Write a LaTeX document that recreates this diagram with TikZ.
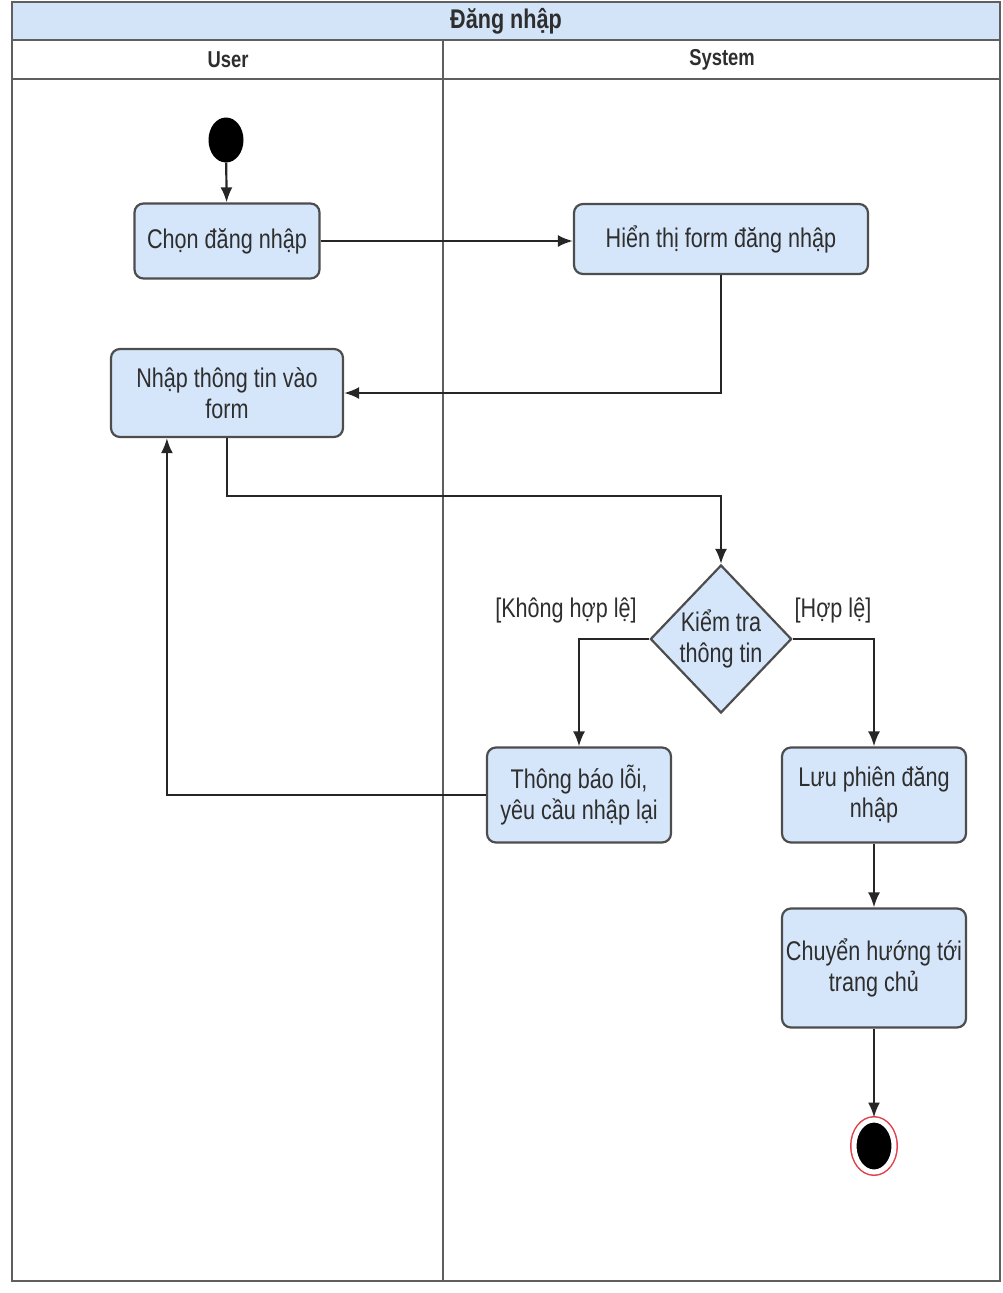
\documentclass[tikz,border=0pt]{standalone}
\usepackage{fontspec}
\setmainfont{Liberation Sans}[FakeStretch=0.8]
\usetikzlibrary{shapes.geometric,arrows.meta}

\definecolor{actblue}{HTML}{D6E6FA}
\definecolor{titleblue}{HTML}{D3E4F9}
\definecolor{boxgray}{HTML}{4D4D4D}
\definecolor{textgray}{HTML}{2E2E2E}
\definecolor{endred}{HTML}{E0404A}

\begin{document}
\begin{tikzpicture}[
  x = 1pt, y = -1pt,
  action/.style = {draw=boxgray, fill=actblue, rounded corners=9pt, line width=2.2pt, text=textgray, align=center, inner sep=0pt, font=\fontsize{27}{31}\selectfont},
  decision/.style = {diamond, draw=boxgray, fill=actblue, line width=2.2pt, text=textgray, align=center, inner sep=0pt, font=\fontsize{27}{31}\selectfont},
  guard/.style = {text=textgray, inner sep=0pt, font=\fontsize{27}{31}\selectfont},
  lanehead/.style = {text=textgray, inner sep=0pt, font=\bfseries\fontsize{23}{27}\selectfont},
  lane/.style = {draw=boxgray!90, line width=2.2pt},
  flow/.style = {draw=black!85, line width=2.2pt, -{Latex[length=15pt, width=12pt]}},
  initial/.style = {ellipse, fill=black, minimum width=35pt, minimum height=45pt, inner sep=0pt},
  final/.style = {ellipse, fill=black, draw=white, line width=5pt, preaction={draw=endred, line width=8pt}, minimum width=40pt, minimum height=52pt, inner sep=0pt},
  ]
  \useasboundingbox (0,0) rectangle (1003,1293);

  \fill[titleblue] (12,2) rectangle (1000,40);
  \draw[lane] (12,2) rectangle (1000,1281);
  \draw[lane] (12,40) -- (1000,40);
  \draw[lane] (12,79) -- (1000,79);
  \draw[lane] (443,40) -- (443,1281);

  \node[lanehead, font=\bfseries\fontsize{27}{31}\selectfont] (title) at (506,21) {Đăng nhập};
  \node[lanehead] (user) at (228,60) {User};
  \node[lanehead] (system) at (722,60) {System};

  \node[initial] (start) at (226,140) {};
  \node[action, minimum width=185pt, minimum height=75pt] (chon) at (227,241) {Chọn đăng nhập};
  \node[action, minimum width=294pt, minimum height=70pt] (hienthi) at (721,239) {Hiển thị form đăng nhập};
  \node[action, minimum width=232pt, minimum height=88pt] (nhap) at (227,393) {Nhập thông tin vào\\form};
  \node[decision, minimum width=138pt, minimum height=148pt] (kiemtra) at (721,639) {Kiểm tra\\thông tin};
  \node[action, minimum width=184pt, minimum height=95pt] (thongbao) at (579,795) {Thông báo lỗi,\\yêu cầu nhập lại};
  \node[action, minimum width=184pt, minimum height=95pt] (luu) at (874,795) {Lưu phiên đăng\\nhập};
  \node[action, minimum width=184pt, minimum height=119pt] (chuyen) at (874,968) {Chuyển hướng tới\\trang chủ};
  \node[final] (end) at (874,1146) {};

  \node[guard] (khong) at (566,610) {[Không hợp lệ]};
  \node[guard] (hople) at (833,610) {[Hợp lệ]};

  \draw[flow] (start) -- (chon);
  \draw[flow] (chon.east) -- (chon.east -| hienthi.west);
  \draw[flow] (hienthi.south) |- (nhap.east);
  \draw[flow] (nhap.south) -- ++(0,58) -| (kiemtra.north);
  \draw[flow] (kiemtra.west) -| (thongbao.north);
  \draw[flow] (kiemtra.east) -| (luu.north);
  \draw[flow] (thongbao.west) -| ([xshift=57pt]nhap.south west);
  \draw[flow] (luu) -- (chuyen);
  \draw[flow] (chuyen) -- (end);
\end{tikzpicture}
\end{document}
